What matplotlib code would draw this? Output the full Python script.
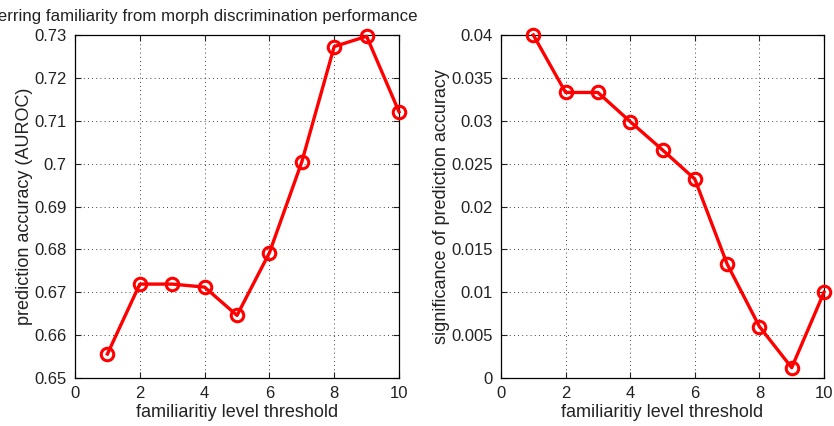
import numpy as np
import matplotlib.pyplot as plt

plt.rcParams['font.family'] = ['Liberation Sans', 'DejaVu Sans']

thresholds = [1, 2, 3, 4, 5, 6, 7, 8, 9, 10]
accuracy = [0.6556, 0.6719, 0.6719, 0.6712, 0.6646, 0.6792, 0.7004, 0.7273, 0.7297, 0.7121]
significance = [0.0400, 0.0333, 0.0333, 0.0299, 0.0266, 0.0232, 0.0133, 0.0060, 0.0012, 0.0100]

title = 'Inferring familiarity from morph discrimination performance'
xlabel = 'familiaritiy level threshold'

fig = plt.figure(figsize=(8.34, 4.26), dpi=100)
ax1 = fig.add_axes([75 / 834, 48 / 426, 324 / 834, 343 / 426])
ax2 = fig.add_axes([501 / 834, 48 / 426, 323 / 834, 343 / 426])


def style(ax, ylim, yticks, ylabel):
    ax.plot(thresholds, ylim[2], color='#ff0000', lw=2.4, marker='o', ms=9,
            mfc='none', mec='#ff0000', mew=2.2, clip_on=False, zorder=3)
    ax.set_xlim(0, 10)
    ax.set_ylim(ylim[0], ylim[1])
    ax.set_xticks(range(0, 11, 2))
    ax.set_yticks(yticks)
    ax.set_yticklabels(['%g' % t for t in yticks])
    ax.grid(True, color='black', linestyle=(0, (1, 4)), linewidth=0.6)
    ax.tick_params(direction='in', top=True, right=True, length=4, width=0.8,
                   labelsize=12, colors='#222222', pad=6)
    for s in ax.spines.values():
        s.set_linewidth(0.9)
    ax.set_xlabel(xlabel, fontsize=13, color='#222222', labelpad=2)
    ax.set_ylabel(ylabel, fontsize=13, color='#222222', labelpad=1)


style(ax1, (0.65, 0.73, accuracy), np.round(np.arange(0.65, 0.7301, 0.01), 3),
      'prediction accuracy (AUROC)')
style(ax2, (0, 0.04, significance), np.round(np.arange(0, 0.04001, 0.005), 3),
      'significance of prediction accuracy')

fig.text(418 / 834, 1 - 21 / 426, title, ha='right', va='baseline',
         fontsize=12.2, color='#222222')

fig.savefig('out.png', dpi=100)
